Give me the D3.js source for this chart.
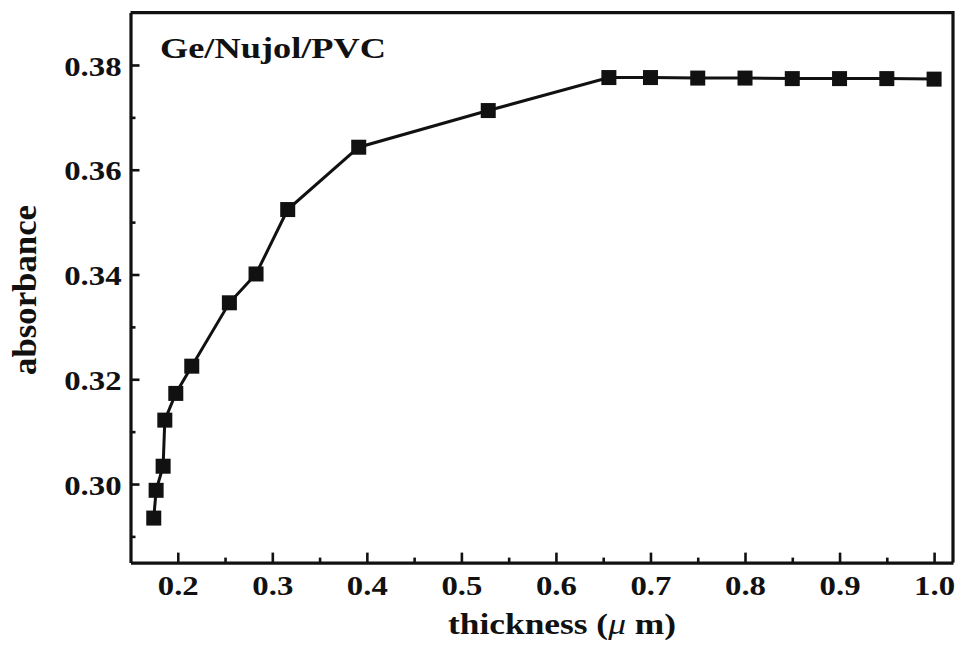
<!DOCTYPE html>
<html>
<head>
<meta charset="utf-8">
<script src="https://cdn.jsdelivr.net/npm/d3@7"></script>
<style>
  html, body { margin: 0; padding: 0; background: #fff; }
  svg { display: block; }
  text { font-family: "Liberation Serif", "Times New Roman", Times, serif; font-weight: bold; fill: #111; }
</style>
</head>
<body>
<svg id="chart" width="962" height="646"></svg>
<script>
// Absorbance vs film thickness, Ge/Nujol/PVC
const thickness = [0.1746, 0.1771, 0.1845, 0.1863, 0.1979, 0.2148, 0.2546, 0.2828,
                   0.3163, 0.3914, 0.5284, 0.6560, 0.70, 0.75, 0.80, 0.85, 0.90, 0.95, 1.00];
const absorbance = [0.2935, 0.2988, 0.3034, 0.3122, 0.3173, 0.3225, 0.3346, 0.3401,
                    0.3524, 0.3643, 0.3713, 0.3776, 0.3776, 0.3775, 0.3775, 0.3774, 0.3774, 0.3774, 0.3773];

const xMajorTicks = [0.2, 0.3, 0.4, 0.5, 0.6, 0.7, 0.8, 0.9, 1.0];
const xMinorTicks = [0.25, 0.35, 0.45, 0.55, 0.65, 0.75, 0.85, 0.95];
const yMajorTicks = [0.30, 0.32, 0.34, 0.36, 0.38];
const yMinorTicks = [0.29, 0.31, 0.33, 0.35, 0.37];

const titleText = "Ge/Nujol/PVC";
const xLabelParts = ["thickness (", "\u03bc", " m)"];
const yLabel = "absorbance";

const svg = d3.select("#chart");
const plotLeft = 130.5, plotRight = 953, plotTop = 12.6, plotBottom = 562.6;

const x = d3.scaleLinear().domain([0.15, 1.02]).range([plotLeft, plotRight]);
const y = d3.scaleLinear().domain([0.285, 0.39]).range([plotBottom, plotTop]);

const stretch = 1.17;

// frame (top and right edges)
svg.append("path")
  .attr("d", `M${plotLeft},${plotTop}H${plotRight}V${plotBottom}`)
  .attr("fill", "none").attr("stroke", "#111").attr("stroke-width", 3.2);

// bottom axis
const gx = svg.append("g").attr("transform", `translate(0,${plotBottom})`);
gx.call(d3.axisBottom(x).tickValues(xMajorTicks).tickSizeInner(-10).tickSizeOuter(0)
  .tickFormat(d3.format(".1f")));
gx.append("g").call(d3.axisBottom(x).tickValues(xMinorTicks).tickSizeInner(-5).tickSizeOuter(0).tickFormat(""))
  .select(".domain").remove();
gx.selectAll(".domain").attr("stroke", "#111").attr("stroke-width", 3.2);
gx.selectAll(".tick line").attr("stroke", "#111").attr("stroke-width", 2.6);
gx.selectAll(".tick text")
  .attr("y", 32).attr("dy", null)
  .attr("transform", `scale(${stretch},1)`)
  .style("font-size", "28px").attr("fill", "#111");

// left axis
const gy = svg.append("g").attr("transform", `translate(${plotLeft},0)`);
gy.call(d3.axisLeft(y).tickValues(yMajorTicks).tickSizeInner(-9).tickSizeOuter(0)
  .tickFormat(d3.format(".2f")));
gy.append("g").call(d3.axisLeft(y).tickValues(yMinorTicks).tickSizeInner(-5).tickSizeOuter(0).tickFormat(""))
  .select(".domain").remove();
gy.selectAll(".domain").attr("stroke", "#111").attr("stroke-width", 3.2);
gy.selectAll(".tick line").attr("stroke", "#111").attr("stroke-width", 2.6);
gy.selectAll(".tick text")
  .attr("x", -9 / stretch).attr("dy", "0.36em")
  .attr("transform", `scale(${stretch},1)`)
  .style("font-size", "28px").attr("fill", "#111");

// connecting line
const pts = thickness.map((t, i) => [t, absorbance[i]]);
svg.append("path")
  .datum(pts)
  .attr("fill", "none").attr("stroke", "#111").attr("stroke-width", 3)
  .attr("d", d3.line().x(d => x(d[0])).y(d => y(d[1])));

// square markers
const s = 15;
svg.append("g").selectAll("rect").data(pts).join("rect")
  .attr("x", d => x(d[0]) - s / 2).attr("y", d => y(d[1]) - s / 2)
  .attr("width", s).attr("height", s).attr("fill", "#111");

// sample label
svg.append("text")
  .attr("x", 160).attr("y", 58)
  .attr("textLength", 226).attr("lengthAdjust", "spacingAndGlyphs")
  .style("font-size", "29px").text(titleText);

// axis titles
const xl = svg.append("text")
  .attr("x", 448).attr("y", 634)
  .attr("textLength", 228).attr("lengthAdjust", "spacingAndGlyphs")
  .style("font-size", "30px");
xl.append("tspan").text(xLabelParts[0]);
xl.append("tspan").style("font-style", "italic").style("font-weight", "normal").text(xLabelParts[1]);
xl.append("tspan").text(xLabelParts[2]);

svg.append("text")
  .attr("transform", "translate(36,290) rotate(-90)")
  .attr("text-anchor", "middle")
  .attr("textLength", 170).attr("lengthAdjust", "spacingAndGlyphs")
  .style("font-size", "33px").text(yLabel);
</script>
</body>
</html>
